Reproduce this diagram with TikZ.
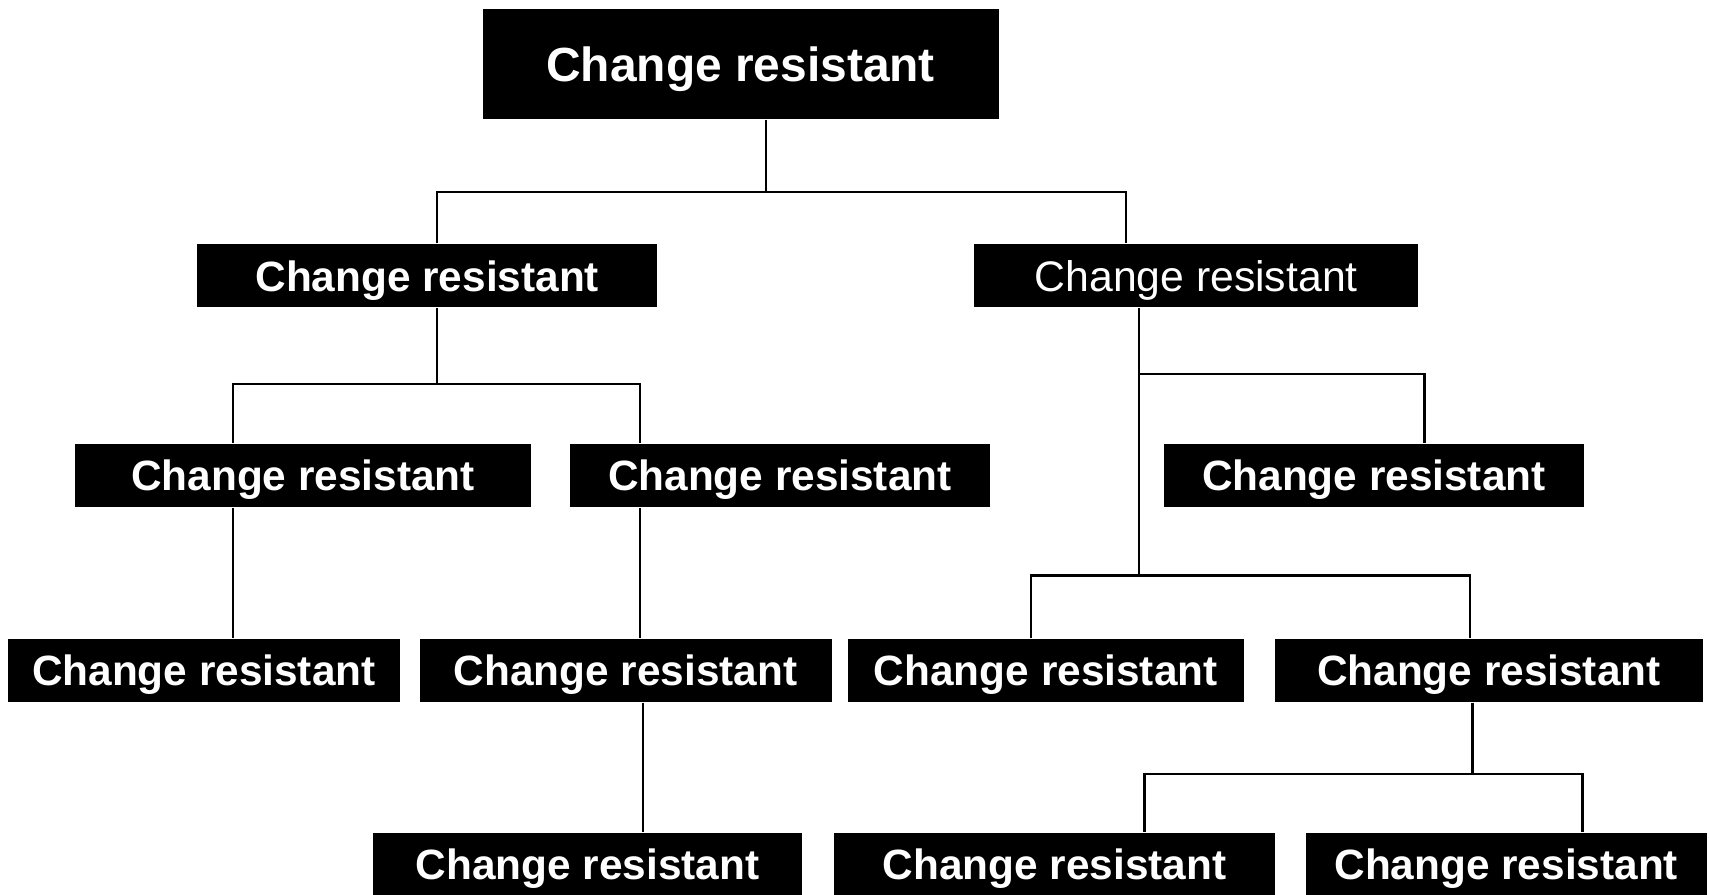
\documentclass[tikz,border=0pt]{standalone}
\usepackage{fontspec}
\setmainfont{Liberation Sans}
\begin{document}
\begin{tikzpicture}[x=0.01cm,y=-0.01cm,
  box/.style={fill=black,text=white,inner sep=0pt,minimum height=0.58cm,text depth=0pt,
    font=\bfseries\fontsize{11.05}{13}\selectfont},
  boxreg/.style={box,font=\mdseries\fontsize{11.15}{13}\selectfont},
  link/.style={draw=black,line width=0.6pt,line join=miter}]
\useasboundingbox (0,0) rectangle (1568,821);
% nodes
\node[box,minimum width=4.73cm,minimum height=1.01cm,font=\bfseries\fontsize{12.5}{15}\selectfont] (top) at (679.5,58.5) {Change resistant};
\node[box,minimum width=4.22cm] (l1a) at (392,253) {Change resistant};
\node[boxreg,minimum width=4.07cm] (l1b) at (1097.5,253) {Change resistant};
\node[box,minimum width=4.18cm] (l2a) at (278,436) {Change resistant};
\node[box,minimum width=3.85cm] (l2b) at (715.5,436) {Change resistant};
\node[box,minimum width=3.85cm] (l2c) at (1260.5,436) {Change resistant};
\node[box,minimum width=3.60cm] (l3a) at (187,615) {Change resistant};
\node[box,minimum width=3.78cm] (l3b) at (574,615) {Change resistant};
\node[box,minimum width=3.63cm] (l3c) at (959.5,615) {Change resistant};
\node[box,minimum width=3.92cm] (l3d) at (1366,615) {Change resistant};
\node[box,minimum width=3.94cm] (l4a) at (539,793) {Change resistant};
\node[box,minimum width=4.05cm] (l4b) at (967.5,793) {Change resistant};
\node[box,minimum width=3.68cm] (l4c) at (1382,793) {Change resistant};
% connectors
\draw[link] (top.south -| 703,0) -- (703,176);
\draw[link] (l1a.north -| 401,0) -- (401,176) -- (1033,176) -- (l1b.north -| 1033,0);
\draw[link] (l1a.south -| 401,0) -- (401,352);
\draw[link] (l2a.north -| 214,0) -- (214,352) -- (587,352) -- (l2b.north -| 587,0);
\draw[link] (l1b.south -| 1045,0) -- (1045,528);
\draw[link] (1045,343) -- (1307,343) -- (l2c.north -| 1307,0);
\draw[link] (l3c.north -| 946,0) -- (946,528) -- (1349,528) -- (l3d.north -| 1349,0);
\draw[link] (l2a.south -| 214,0) -- (l3a.north -| 214,0);
\draw[link] (l2b.south -| 587,0) -- (l3b.north -| 587,0);
\draw[link] (l3b.south -| 590,0) -- (l4a.north -| 590,0);
\draw[link] (l3d.south -| 1351,0) -- (1351,710);
\draw[link] (l4b.north -| 1050,0) -- (1050,710) -- (1452,710) -- (l4c.north -| 1452,0);
\end{tikzpicture}
\end{document}
